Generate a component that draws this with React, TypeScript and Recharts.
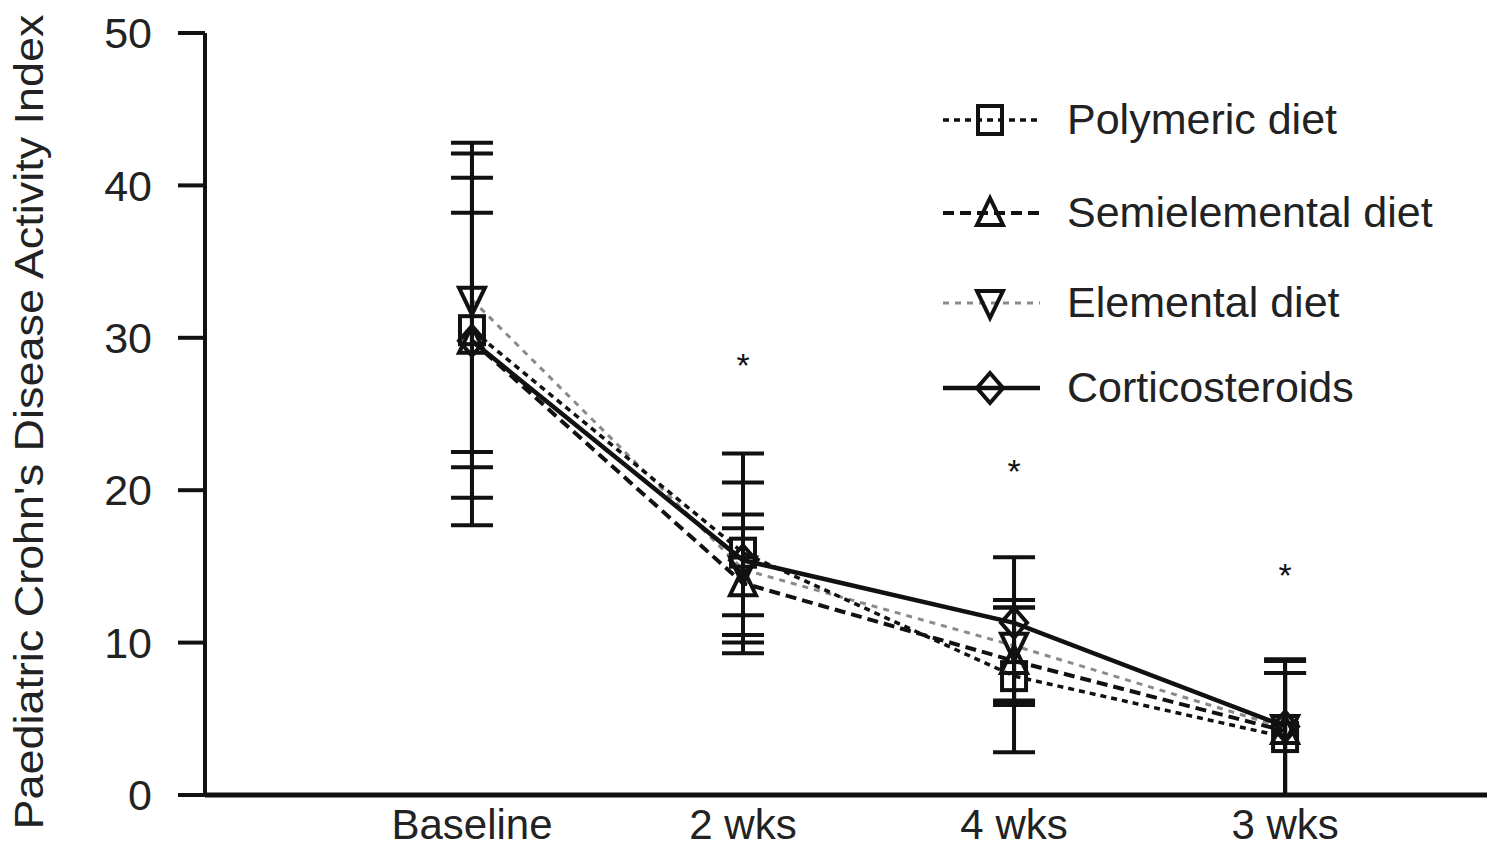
import React from 'react';
import { ComposedChart, Line, XAxis, YAxis, ErrorBar, Legend, Label } from 'recharts';

const categories = ['Baseline', '2 wks', '4 wks', '3 wks'];
const timeIndex = [0, 1, 2, 3];
const yTicks = [0, 10, 20, 30, 40, 50];

const polymeric = [30.5, 15.9, 7.8, 3.8];
const polymericErr = [[11.0, 11.6], [6.6, 6.5], [5.0, 4.5], [3.8, 5.1]];
const semielemental = [29.8, 13.9, 8.8, 4.2];
const semielementalErr = [[12.1, 10.7], [3.9, 3.6], [2.7, 3.5], [4.2, 3.8]];
const elemental = [32.5, 14.8, 9.8, 4.4];
const elementalErr = [[10.0, 10.3], [3.0, 3.6], [3.6, 3.0], [4.4, 3.6]];
const corticosteroids = [29.8, 15.4, 11.3, 4.5];
const corticosteroidsErr = [[8.3, 8.4], [4.9, 5.1], [5.4, 4.3], [4.5, 4.3]];
const significance: (number | null)[] = [null, 28.7, 21.7, 14.9];

const data = timeIndex.map((x, i) => ({
  x,
  poly: polymeric[i],
  polyErr: polymericErr[i],
  semi: semielemental[i],
  semiErr: semielementalErr[i],
  elem: elemental[i],
  elemErr: elementalErr[i],
  cort: corticosteroids[i],
  cortErr: corticosteroidsErr[i],
  sig: significance[i],
}));

const FONT = '"Liberation Sans", Arial, Helvetica, sans-serif';
const INK = '#111';

const SquareMark = ({ cx, cy }: { cx: number; cy: number }) => (
  <rect x={cx - 12} y={cy - 14} width={24} height={28} fill="none" stroke={INK} strokeWidth={4} />
);
const TriUpMark = ({ cx, cy }: { cx: number; cy: number }) => (
  <polygon points={`${cx},${cy - 15} ${cx - 13},${cy + 12} ${cx + 13},${cy + 12}`} fill="none" stroke={INK} strokeWidth={4} />
);
const TriDownMark = ({ cx, cy }: { cx: number; cy: number }) => (
  <polygon points={`${cx - 13},${cy - 12} ${cx + 13},${cy - 12} ${cx},${cy + 15}`} fill="none" stroke={INK} strokeWidth={4} />
);
const DiamondMark = ({ cx, cy }: { cx: number; cy: number }) => (
  <polygon points={`${cx},${cy - 15} ${cx + 13},${cy} ${cx},${cy + 15} ${cx - 13},${cy}`} fill="none" stroke={INK} strokeWidth={4} />
);

const makeDot = (Comp: any, name: string) => (p: any) => {
  if (p.cx == null || p.cy == null || p.value == null) return <g key={`${name}-${p.index}`} />;
  return <Comp key={`${name}-${p.index}`} cx={p.cx} cy={p.cy} />;
};

const asteriskDot = (p: any) => {
  if (p.cx == null || p.cy == null || p.value == null || Number.isNaN(p.cy)) return <g key={`sig-${p.index}`} />;
  return (
    <text key={`sig-${p.index}`} x={p.cx} y={p.cy + 19} textAnchor="middle" fontFamily={FONT} fontSize={34} fill={INK}>
      *
    </text>
  );
};

const legendItems = [
  { label: 'Polymeric diet', dash: '6 5', color: INK, width: 3.5, Mark: SquareMark },
  { label: 'Semielemental diet', dash: '11 6', color: INK, width: 4, Mark: TriUpMark },
  { label: 'Elemental diet', dash: '6 6', color: '#8a8a8a', width: 3, Mark: TriDownMark },
  { label: 'Corticosteroids', dash: undefined, color: INK, width: 4.5, Mark: DiamondMark },
];
const legendRows = [30, 123, 213, 298];

const renderLegend = () => (
  <svg width={560} height={340} style={{ overflow: 'visible' }}>
    {legendItems.map((it, i) => {
      const y = legendRows[i];
      return (
        <g key={it.label}>
          <line x1={13} x2={110} y1={y} y2={y} stroke={it.color} strokeWidth={it.width} strokeDasharray={it.dash} />
          <it.Mark cx={60} cy={y} />
          <text x={137} y={y + 14} fontFamily={FONT} fontSize={43} fill="#222">
            {it.label}
          </text>
        </g>
      );
    })}
  </svg>
);

const renderYLabel = () => (
  <text
    x={43}
    y={422}
    transform="rotate(-90 43 422)"
    textAnchor="middle"
    fontFamily={FONT}
    fontSize={40}
    fill="#222"
    textLength={815}
    lengthAdjust="spacingAndGlyphs"
  >
    Paediatric Crohn's Disease Activity Index
  </text>
);

export default function App() {
  return (
    <div style={{ position: 'absolute', left: 0, top: 0, width: 1487, height: 850, background: '#fff' }}>
      <ComposedChart width={1487} height={850} data={data} margin={{ top: 33, right: 0, bottom: 0, left: 0 }}>
        <XAxis
          type="number"
          dataKey="x"
          domain={[-0.985, 3.745]}
          ticks={timeIndex}
          allowDataOverflow
          tickFormatter={(v: number) => categories[v]}
          height={55}
          tickLine={false}
          tickSize={0}
          tickMargin={14}
          axisLine={{ stroke: INK, strokeWidth: 5 }}
          tick={{ fontSize: 42, fontFamily: FONT, fill: '#222' }}
        />
        <YAxis
          type="number"
          domain={[0, 50]}
          ticks={yTicks}
          width={205}
          tickSize={27}
          tickMargin={26}
          axisLine={{ stroke: INK, strokeWidth: 4 }}
          tickLine={{ stroke: INK, strokeWidth: 4 }}
          tick={{ fontSize: 43, fontFamily: FONT, fill: '#222' }}
        >
          <Label content={renderYLabel} />
        </YAxis>
        <Legend
          layout="vertical"
          align="center"
          verticalAlign="middle"
          content={renderLegend}
          wrapperStyle={{ position: 'absolute', top: 90, left: 930, width: 557, height: 340 }}
        />
        <Line
          dataKey="elem"
          stroke="#8a8a8a"
          strokeWidth={3}
          strokeDasharray="6 6"
          dot={makeDot(TriDownMark, 'elem')}
          activeDot={false}
          isAnimationActive={false}
        >
          <ErrorBar dataKey="elemErr" direction="y" width={21} stroke={INK} strokeWidth={4} />
        </Line>
        <Line
          dataKey="poly"
          stroke={INK}
          strokeWidth={3.5}
          strokeDasharray="6 5"
          dot={makeDot(SquareMark, 'poly')}
          activeDot={false}
          isAnimationActive={false}
        >
          <ErrorBar dataKey="polyErr" direction="y" width={21} stroke={INK} strokeWidth={4} />
        </Line>
        <Line
          dataKey="semi"
          stroke={INK}
          strokeWidth={4}
          strokeDasharray="11 6"
          dot={makeDot(TriUpMark, 'semi')}
          activeDot={false}
          isAnimationActive={false}
        >
          <ErrorBar dataKey="semiErr" direction="y" width={21} stroke={INK} strokeWidth={4} />
        </Line>
        <Line
          dataKey="cort"
          stroke={INK}
          strokeWidth={4.5}
          dot={makeDot(DiamondMark, 'cort')}
          activeDot={false}
          isAnimationActive={false}
        >
          <ErrorBar dataKey="cortErr" direction="y" width={21} stroke={INK} strokeWidth={4} />
        </Line>
        <Line
          dataKey="sig"
          stroke="none"
          dot={asteriskDot}
          activeDot={false}
          legendType="none"
          isAnimationActive={false}
        />
      </ComposedChart>
    </div>
  );
}
